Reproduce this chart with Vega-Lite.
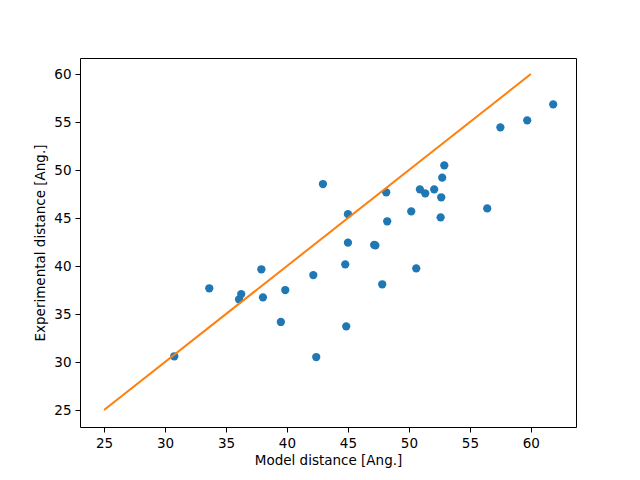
{
  "$schema": "https://vega.github.io/schema/vega-lite/v6.json",
  "autosize": "none",
  "width": 496,
  "height": 369,
  "padding": {"left": 80, "top": 58, "right": 64, "bottom": 53},
  "background": "white",
  "config": {
    "view": {"stroke": "black", "strokeWidth": 1},
    "axis": {
      "grid": false,
      "domain": false,
      "tickColor": "black",
      "tickSize": 5,
      "tickWidth": 1,
      "labelColor": "black",
      "labelFont": "DejaVu Sans",
      "labelFontSize": 13.5,
      "labelPadding": 4,
      "titleFont": "DejaVu Sans",
      "titleFontSize": 13.5,
      "titleFontWeight": "normal",
      "titleColor": "black"
    }
  },
  "datasets": {
    "pts": [
      {"model": 30.76, "exp": 30.6},
      {"model": 33.63, "exp": 37.68},
      {"model": 36.07, "exp": 36.53},
      {"model": 36.25, "exp": 37.08},
      {"model": 37.9, "exp": 39.66},
      {"model": 38.03, "exp": 36.74},
      {"model": 39.5, "exp": 34.17},
      {"model": 39.86, "exp": 37.5},
      {"model": 42.16, "exp": 39.06},
      {"model": 42.4, "exp": 30.52},
      {"model": 42.95, "exp": 48.54},
      {"model": 44.78, "exp": 40.18},
      {"model": 44.86, "exp": 33.72},
      {"model": 45.0, "exp": 45.4},
      {"model": 45.0, "exp": 42.43},
      {"model": 47.15, "exp": 42.2},
      {"model": 47.25, "exp": 42.15},
      {"model": 47.81, "exp": 38.1},
      {"model": 48.14, "exp": 47.68},
      {"model": 48.22, "exp": 44.66},
      {"model": 50.19, "exp": 45.7},
      {"model": 50.6, "exp": 39.76},
      {"model": 50.9, "exp": 47.99},
      {"model": 51.34, "exp": 47.57},
      {"model": 52.07, "exp": 47.99},
      {"model": 52.6, "exp": 45.07},
      {"model": 52.65, "exp": 47.16},
      {"model": 52.73, "exp": 49.2},
      {"model": 52.9, "exp": 50.49},
      {"model": 56.42, "exp": 46.0},
      {"model": 57.5, "exp": 54.45},
      {"model": 59.7, "exp": 55.18},
      {"model": 61.83, "exp": 56.84}
    ],
    "diag": [
      {"model": 25, "exp": 25},
      {"model": 60, "exp": 60}
    ]
  },
  "layer": [
    {
      "data": {"name": "pts"},
      "mark": {"type": "point", "filled": true, "shape": "circle", "size": 68, "color": "#1f77b4", "opacity": 1},
      "encoding": {
        "x": {"field": "model", "type": "quantitative",
              "scale": {"domain": [23.03, 63.7], "nice": false, "zero": false},
              "axis": {"values": [25, 30, 35, 40, 45, 50, 55, 60], "title": "Model distance [Ang.]"}},
        "y": {"field": "exp", "type": "quantitative",
              "scale": {"domain": [23.23, 61.67], "nice": false, "zero": false},
              "axis": {"values": [25, 30, 35, 40, 45, 50, 55, 60], "title": "Experimental distance [Ang.]", "titlePadding": 6}}
      }
    },
    {
      "data": {"name": "diag"},
      "mark": {"type": "line", "color": "#ff7f0e", "strokeWidth": 2},
      "encoding": {
        "x": {"field": "model", "type": "quantitative"},
        "y": {"field": "exp", "type": "quantitative"}
      }
    }
  ]
}
